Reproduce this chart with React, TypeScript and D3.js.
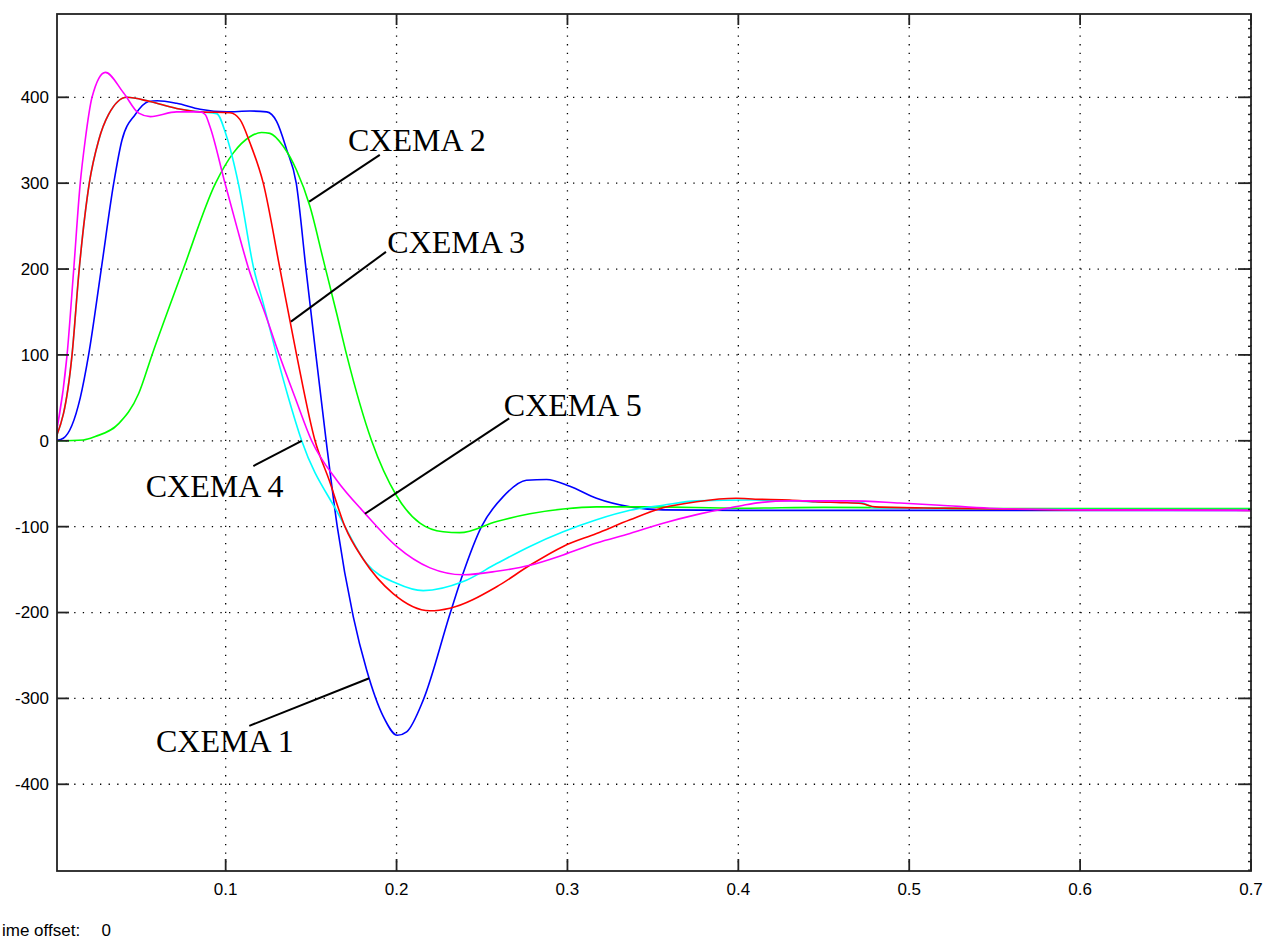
import React from "react";
import * as d3 from "d3";

// ---- data (time [s], value) ----
const schema1: [number, number][] = [
  [0, 0], [0.005, 3], [0.0149, 50], [0.0198, 100], [0.0272, 200], [0.0345, 300], [0.0393, 350],
  [0.0471, 380], [0.0549, 395], [0.06, 396], [0.0713, 393], [0.085, 386], [0.1006, 383],
  [0.1142, 384], [0.124, 383], [0.1298, 372], [0.1357, 339], [0.1413, 300], [0.147, 200],
  [0.1528, 100], [0.1588, 0], [0.1653, -100], [0.1747, -205], [0.1825, -267], [0.1922, -321],
  [0.2005, -343], [0.2059, -339], [0.2156, -302], [0.2315, -200], [0.239, -154], [0.2497, -100],
  [0.2624, -65], [0.276, -46], [0.2878, -45], [0.3014, -53], [0.317, -67], [0.3366, -77],
  [0.356, -80.5], [0.4, -81], [0.5, -81], [0.6, -81], [0.7, -81],
];
const schema2: [number, number][] = [
  [0, 0], [0.0167, 1], [0.0237, 5], [0.0374, 20], [0.0491, 55], [0.0569, 100], [0.0752, 200],
  [0.0941, 300], [0.1044, 335], [0.1142, 354], [0.121, 359], [0.1259, 358], [0.1337, 343],
  [0.1415, 315], [0.1493, 273], [0.1571, 211], [0.165, 148], [0.1708, 100], [0.1854, 0],
  [0.2, -64], [0.2137, -96], [0.2273, -106], [0.237, -107], [0.2586, -94], [0.278, -85],
  [0.2975, -79.5], [0.317, -77], [0.35, -77], [0.4, -78.5], [0.45, -77.5], [0.5, -78],
  [0.55, -79], [0.6, -79], [0.7, -79],
];
const schema3: [number, number][] = [
  [0, 0], [0.0101, 100], [0.0143, 200], [0.0202, 300], [0.0257, 350], [0.0315, 380],
  [0.0422, 400], [0.0557, 395], [0.0713, 387], [0.085, 383], [0.1025, 382], [0.1084, 374],
  [0.1142, 347], [0.122, 300], [0.1318, 200], [0.1415, 100], [0.1523, 0], [0.1606, -46],
  [0.1698, -100], [0.1805, -138], [0.198, -178], [0.2195, -198], [0.2312, -195],
  [0.2586, -170], [0.278, -145], [0.2975, -123], [0.317, -108], [0.3366, -92], [0.356, -78],
  [0.3756, -71], [0.3987, -67], [0.41, -68], [0.43, -69], [0.445, -71], [0.46, -72],
  [0.472, -73], [0.48, -77], [0.52, -78.6], [0.59, -80.5], [0.7, -81],
];
const schema4: [number, number][] = [
  [0, 0], [0.0101, 100], [0.0143, 200], [0.0202, 300], [0.0257, 350], [0.0315, 380],
  [0.0422, 400], [0.0557, 395], [0.0713, 387], [0.085, 383], [0.0947, 381], [0.1006, 354],
  [0.1074, 300], [0.1165, 200], [0.122, 160], [0.1298, 100], [0.1366, 51], [0.1445, 0],
  [0.1659, -85], [0.1825, -143], [0.2, -166], [0.2156, -174.5], [0.239, -164], [0.2586, -143],
  [0.278, -123], [0.2975, -106], [0.317, -92], [0.3366, -81], [0.356, -75], [0.3756, -70],
  [0.4068, -69], [0.43, -70], [0.442, -71], [0.472, -72], [0.48, -78], [0.53, -79],
  [0.6, -80], [0.7, -80],
];
const schema5: [number, number][] = [
  [0, 0], [0.0072, 100], [0.0111, 200], [0.0149, 300], [0.0178, 350], [0.0218, 400],
  [0.0296, 429], [0.0403, 405], [0.0491, 381.5], [0.0559, 377.5], [0.0713, 383], [0.085, 383],
  [0.088, 380], [0.0908, 366], [0.0996, 300], [0.1064, 250], [0.1135, 200], [0.123, 148.5],
  [0.1314, 100], [0.1405, 51], [0.1503, 0], [0.165, -46], [0.1815, -84.5], [0.2, -123],
  [0.2196, -148], [0.239, -156], [0.2586, -152], [0.278, -145], [0.2975, -133], [0.317, -119],
  [0.3366, -108], [0.356, -96], [0.3756, -86], [0.395, -78], [0.403, -75], [0.4125, -72],
  [0.43, -70], [0.465, -70], [0.4945, -72.5], [0.518, -75], [0.547, -78.5], [0.6, -80.5],
  [0.7, -81],
];

const seriesData = [schema1, schema2, schema4, schema3, schema5];
const seriesColors = ["#0000ff", "#00ff00", "#00ffff", "#ff0000", "#ff00ff"];

const xTicks = [0.1, 0.2, 0.3, 0.4, 0.5, 0.6, 0.7];
const xTickLabels = ["0.1", "0.2", "0.3", "0.4", "0.5", "0.6", "0.7"];
const yTicks = [-400, -300, -200, -100, 0, 100, 200, 300, 400];
const yTickLabels = ["-400", "-300", "-200", "-100", "0", "100", "200", "300", "400"];

// annotation: label, text anchor (t, v), leader line from (t1,v1) to (t2,v2)
const annotLabels = ["CXEMA 1", "CXEMA 2", "CXEMA 3", "CXEMA 4", "CXEMA 5"];
const annotText: [number, number][] = [[0.0592, -362], [0.1716, 338], [0.1946, 219], [0.0532, -65], [0.2628, 29]];
const annotFrom: [number, number][] = [[0.1138, -332], [0.1902, 333], [0.1938, 220], [0.1162, -29.4], [0.2659, 26]];
const annotTo: [number, number][] = [[0.184, -276.6], [0.1489, 278.5], [0.1382, 138.7], [0.1445, 0], [0.1815, -85]];

const footerLabel = "ime offset:";
const footerValue = "0";

export default function App() {
  const W = 1266, H = 939;
  const left = 57, right = 1251, top = 14, bottom = 871;
  const x = d3.scaleLinear().domain([0.0013, 0.7]).range([left, right]);
  const y = d3.scaleLinear().domain([-501, 497]).range([bottom, top]);
  const line = d3
    .line<[number, number]>()
    .x((d) => x(d[0]))
    .y((d) => y(d[1]))
    .curve(d3.curveMonotoneX);
  const minorY = d3.range(-500, 497, 10);
  const axisColor = "#222";
  const sans = "'Liberation Sans', Arial, sans-serif";
  const serif = "'Liberation Serif', 'Times New Roman', serif";

  return (
    <svg
      width={W}
      height={H}
      style={{ position: "absolute", left: 0, top: 0, display: "block", background: "#fff" }}
    >
      <defs>
        <clipPath id="plotClip">
          <rect x={left} y={top} width={right - left} height={bottom - top} />
        </clipPath>
      </defs>
      <rect x={0} y={0} width={W} height={H} fill="#fff" />
      {/* grid */}
      {xTicks.map((t) => (
        <line key={"gx" + t} x1={x(t)} x2={x(t)} y1={bottom} y2={top} stroke="#000" strokeWidth={1.3} strokeDasharray="1.3 7.3" />
      ))}
      {yTicks.map((v) => (
        <line key={"gy" + v} x1={left} x2={right} y1={y(v)} y2={y(v)} stroke="#000" strokeWidth={1.3} strokeDasharray="1.3 7.3" />
      ))}
      {/* series */}
      <g clipPath="url(#plotClip)">
        {seriesData.map((s, i) => (
          <path key={"s" + i} d={line(s) || ""} fill="none" stroke={seriesColors[i]} strokeWidth={1.6} />
        ))}
      </g>
      {/* axes box */}
      <rect x={left} y={top} width={right - left} height={bottom - top} fill="none" stroke={axisColor} strokeWidth={1.8} />
      {/* ticks */}
      {xTicks.map((t) => (
        <g key={"tx" + t}>
          <line x1={x(t)} x2={x(t)} y1={bottom} y2={bottom - 12} stroke={axisColor} strokeWidth={1.8} />
          <line x1={x(t)} x2={x(t)} y1={top} y2={top + 11} stroke={axisColor} strokeWidth={1.8} />
        </g>
      ))}
      {yTicks.map((v) => (
        <g key={"ty" + v}>
          <line x1={left} x2={left + 12} y1={y(v)} y2={y(v)} stroke={axisColor} strokeWidth={1.8} />
          <line x1={right} x2={right - 13} y1={y(v)} y2={y(v)} stroke={axisColor} strokeWidth={1.8} />
        </g>
      ))}
      {minorY.map((v) => (
        <line key={"my" + v} x1={right} x2={right - 3} y1={y(v)} y2={y(v)} stroke={axisColor} strokeWidth={1.4} />
      ))}
      {/* tick labels */}
      {xTicks.map((t, i) => (
        <text key={"lx" + t} x={x(t)} y={895} textAnchor="middle" fontFamily={sans} fontSize={17} fill="#000">
          {xTickLabels[i]}
        </text>
      ))}
      {yTicks.map((v, i) => (
        <text key={"ly" + v} x={49} y={y(v)} dy="0.35em" textAnchor="end" fontFamily={sans} fontSize={17} fill="#000">
          {yTickLabels[i]}
        </text>
      ))}
      {/* annotations */}
      {annotLabels.map((lab, i) => (
        <g key={"a" + i}>
          <line
            x1={x(annotFrom[i][0])}
            y1={y(annotFrom[i][1])}
            x2={x(annotTo[i][0])}
            y2={y(annotTo[i][1])}
            stroke="#000"
            strokeWidth={2}
          />
          <text x={x(annotText[i][0])} y={y(annotText[i][1])} fontFamily={serif} fontSize={32} fill="#000">
            {lab}
          </text>
        </g>
      ))}
      {/* footer */}
      <text x={2} y={936} fontFamily={sans} fontSize={17} fill="#000">
        {footerLabel}
      </text>
      <text x={101.5} y={936} fontFamily={sans} fontSize={17} fill="#000">
        {footerValue}
      </text>
    </svg>
  );
}
